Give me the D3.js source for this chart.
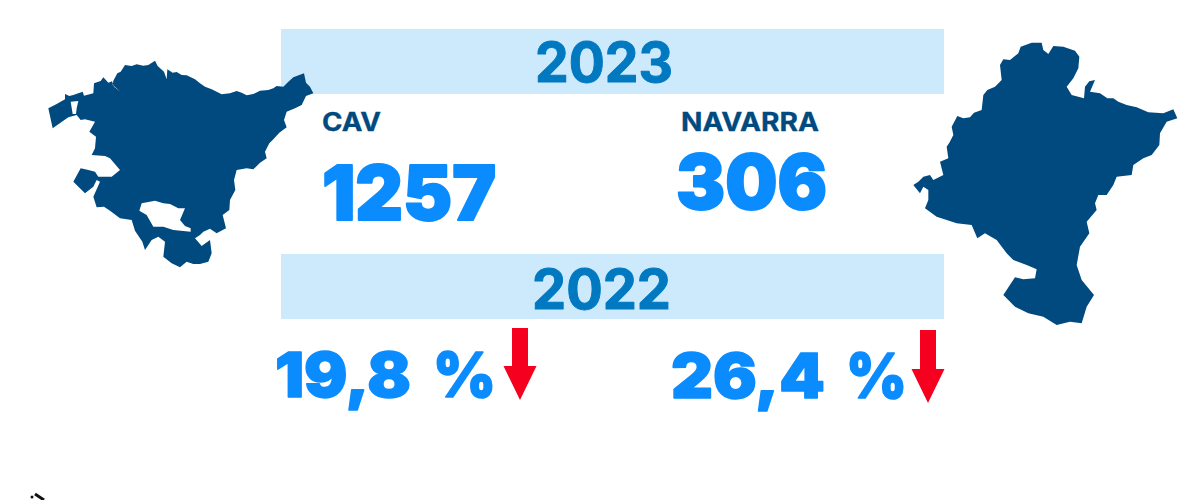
<!DOCTYPE html>
<html>
<head>
<meta charset="utf-8">
<script src="https://cdnjs.cloudflare.com/ajax/libs/d3/7.8.5/d3.min.js"></script>
<style>
html,body{margin:0;padding:0;background:#fff;overflow:hidden}
text{font-family:Inter,"Open Sans",sans-serif;font-weight:900;stroke-linejoin:round}
</style>
</head>
<body>
<svg id="chart" width="1200" height="500"></svg>
<script>
// values
var years = ["2023","2022"]
var regions = ["CAV","NAVARRA"]
var counts = ["1257","306"]
var changes = ["19,8","26,4"]
var unit = "%"

// outlines, in units of a 3x crop
var cavOutline = [[55,205],[80,192],[105,178],[105,162],[118,168],[130,165],[158,155],[162,167],[190,160],[192,130],[212,123],[220,112],[235,128],[246,124],[252,140],[272,155],[248,135],[250,122],[262,100],[272,95],[285,75],[305,78],[320,73],[340,77],[355,75],[375,62],[383,78],[402,95],[410,118],[412,88],[428,98],[440,96],[455,105],[470,106],[495,118],[510,130],[525,140],[545,148],[560,155],[575,163],[600,160],[620,153],[635,158],[650,166],[670,162],[690,152],[715,150],[730,145],[740,138],[760,140],[775,125],[790,112],[822,100],[828,128],[840,140],[850,160],[828,168],[815,195],[795,205],[770,215],[762,240],[770,262],[748,278],[730,298],[718,310],[705,335],[710,355],[690,368],[670,388],[650,385],[620,390],[612,420],[616,450],[600,480],[598,510],[578,525],[588,565],[560,580],[540,566],[520,575],[510,585],[495,595],[515,618],[540,600],[545,640],[535,665],[510,672],[490,672],[470,665],[450,682],[425,670],[400,650],[405,605],[385,590],[365,600],[345,630],[337,605],[315,572],[305,540],[270,535],[240,512],[222,500],[200,502],[190,470],[210,425],[200,420],[190,440],[165,460],[130,425],[152,385],[175,390],[195,395],[205,410],[245,410],[270,390],[240,355],[225,348],[185,345],[195,325],[198,290],[178,275],[195,245],[165,238],[152,240],[140,225],[115,232],[68,265]]
var cavHoleWest = [[122,185],[145,183],[140,205],[138,222],[128,222]]
var cavHoleSouth = [[335,490],[375,482],[400,490],[420,492],[445,505],[465,505],[450,540],[465,558],[482,565],[482,575],[430,570],[400,560],[370,560],[350,525],[328,512]]
var navarraOutline = [[40,465],[55,455],[70,440],[90,435],[100,450],[130,435],[120,395],[145,385],[140,350],[148,338],[160,315],[155,290],[172,258],[190,265],[210,262],[222,248],[245,240],[250,195],[262,180],[285,170],[305,150],[300,105],[310,88],[330,90],[355,70],[362,50],[395,38],[425,38],[430,60],[445,72],[460,48],[490,50],[525,62],[538,80],[535,115],[520,145],[500,170],[515,195],[552,205],[555,170],[568,154],[585,150],[570,185],[600,190],[622,205],[640,205],[655,215],[680,225],[710,232],[745,247],[790,250],[820,238],[832,265],[800,275],[780,310],[778,345],[755,375],[730,385],[700,405],[695,435],[650,440],[640,465],[620,495],[595,495],[585,520],[590,540],[560,575],[568,610],[540,650],[530,705],[545,750],[582,795],[560,830],[545,880],[510,875],[470,885],[430,860],[385,850],[345,830],[310,795],[345,742],[370,748],[405,745],[410,718],[380,705],[340,690],[320,670],[290,630],[255,610],[232,625],[215,585],[170,580],[110,560],[75,535],[85,510],[85,480],[70,470],[60,490]]

var svg = d3.select("#chart")
var light = "#cdeafd", midBlue = "#0079c1", navy = "#004a80", bright = "#0a8cff", red = "#f5001e"

function drawMap(rings, x0, y0){
    var sx = d3.scaleLinear().domain([0,3]).range([x0,x0+1])
    var sy = d3.scaleLinear().domain([0,3]).range([y0,y0+1])
    var line = d3.line().x(function(d){return sx(d[0])}).y(function(d){return sy(d[1])}).curve(d3.curveLinearClosed)
    svg.append("path")
        .attr("d", rings.map(function(r){return line(r)}).join(""))
        .attr("fill", navy)
        .attr("fill-rule", "evenodd")
}

function label(str, x, y, w, size, color, boldness){
    return svg.append("text").text(str)
        .attr("x",x).attr("y",y)
        .attr("font-size",size).attr("fill",color)
        .attr("stroke",color).attr("stroke-width",boldness)
        .attr("textLength",w).attr("lengthAdjust","spacingAndGlyphs")
}

// bands with year
var bandY = [29,254], textY = [82,309], textX = [535,532], textW = [138,139]
years.forEach(function(y,i){
    svg.append("rect").attr("x",281).attr("y",bandY[i]).attr("width",663).attr("height",65).attr("fill",light)
    label(y,textX[i],textY[i],textW[i],55,midBlue,1).style("font-weight",700)
})

drawMap([cavOutline,cavHoleWest,cavHoleSouth],30,40)
drawMap([navarraOutline],900,30)

// region labels
var regX = [322,681], regW = [59,138]
regions.forEach(function(r,i){
    label(r,regX[i],131,regW[i],25,navy,0.3).style("font-weight",700)
})

// big numbers
var numX = [322,676], numY = [220,209], numW = [174,151]
counts.forEach(function(c,i){
    label(c,numX[i],numY[i],numW[i],76,bright,2)
})

// percent changes and arrows
var pctX = [275,671], pctY = [397,398], pctW = [136,154]
var unitX = [433,846], unitW = [63,61]
var arrowX = [520,928], arrowTop = [328,330], arrowTip = [400,403]
changes.forEach(function(c,i){
    label(c,pctX[i],pctY[i],pctW[i],62,bright,1.5)
    label(unit,unitX[i],pctY[i],unitW[i],62,bright,1.5)
    var a = arrowX[i], t = arrowTop[i], b = arrowTip[i]
    svg.append("path")
        .attr("d","M"+(a-8)+","+t+"H"+(a+8)+"V"+(b-34)+"H"+(a+16.5)+"L"+a+","+b+"L"+(a-16.5)+","+(b-34)+"H"+(a-8)+"Z")
        .attr("fill",red)
})

// bit of a logo cut off at the bottom edge
svg.append("line").attr("x1",35).attr("y1",494).attr("x2",44).attr("y2",500).attr("stroke","#111").attr("stroke-width",3)
svg.append("circle").attr("cx",32).attr("cy",497).attr("r",1.5).attr("fill","#111")
</script>
</body>
</html>
